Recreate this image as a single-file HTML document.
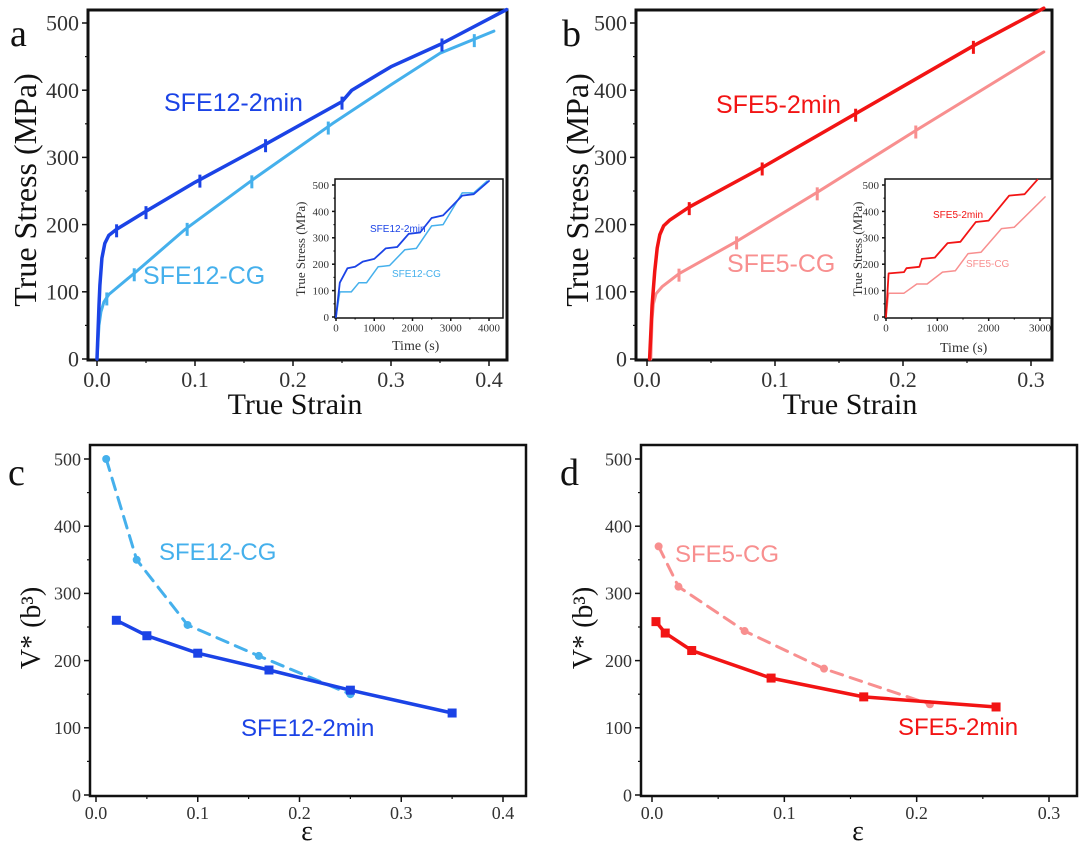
<!DOCTYPE html>
<html><head><meta charset="utf-8"><style>
html,body{margin:0;padding:0;background:#fff;}
svg{display:block;font-family:"Liberation Serif",serif;}
</style></head><body>
<svg id="fig" width="1080" height="853" viewBox="0 0 1080 853" xmlns="http://www.w3.org/2000/svg"></svg>
<script>
// ---- data ----
const aStrain2min=[0,0.002,0.003,0.005,0.008,0.012,0.02,0.05,0.1,0.17,0.25,0.26,0.3,0.35,0.418];
const aStress2min=[0,80,110,150,172,184,193,220,263,318,383,400,435,468,520];
const aStrainCG=[0,0.002,0.004,0.007,0.012,0.04,0.09,0.16,0.24,0.3,0.35,0.405];
const aStressCG=[0,50,70,85,96,130,193,268,350,408,455,488];
const aMarks2min=[0.02,0.05,0.105,0.172,0.25,0.352];
const aMarksCG=[0.01,0.038,0.092,0.158,0.236,0.385];
const bStrain2min=[0.002,0.004,0.006,0.008,0.01,0.013,0.018,0.033,0.09,0.163,0.255,0.31];
const bStress2min=[0,80,130,165,185,198,207,226,285,365,466,522];
const bStrainCG=[0.003,0.004,0.005,0.007,0.012,0.025,0.07,0.133,0.21,0.31];
const bStressCG=[0,60,82,97,108,127,175,248,340,457];
const bMarks2min=[0.033,0.09,0.163,0.255];
const bMarksCG=[0.025,0.07,0.133,0.21];
const aInTime2min=[0,100,300,500,700,1000,1300,1600,1900,2200,2500,2800,3300,3600,4000];
const aInStress2min=[0,130,185,190,210,220,260,265,315,320,375,385,460,465,515];
const aInTimeCG=[0,100,400,600,800,1100,1400,1800,2100,2500,2800,3300,3600,3950];
const aInStressCG=[0,95,95,130,130,190,195,255,260,345,350,470,470,515];
const bInTime2min=[0,50,350,400,650,700,950,1200,1450,1750,2000,2400,2700,2950];
const bInStress2min=[0,165,170,185,190,220,225,280,285,360,365,460,465,520];
const bInTimeCG=[0,50,350,600,800,1100,1350,1600,1850,2250,2500,3100];
const bInStressCG=[0,90,90,125,125,170,175,240,245,335,340,455];
const cStrainCG=[0.01,0.04,0.09,0.16,0.25];
const cVCG=[500,350,253,207,150];
const cStrain2min=[0.02,0.05,0.10,0.17,0.25,0.35];
const cV2min=[260,237,211,186,156,122];
const dStrainCG=[0.005,0.02,0.07,0.13,0.21];
const dVCG=[370,310,244,188,135];
const dStrain2min=[0.003,0.01,0.03,0.09,0.16,0.26];
const dV2min=[258,241,215,174,146,131];
const stressTicks=[0,100,200,300,400,500];
const aXTicks=[0,0.1,0.2,0.3,0.4];
const bXTicks=[0,0.1,0.2,0.3];
const aInXTicks=[0,1000,2000,3000,4000];
const bInXTicks=[0,1000,2000,3000];

const NS="http://www.w3.org/2000/svg";
const svg=document.getElementById('fig');
function el(tag,attrs,parent){const e=document.createElementNS(NS,tag);for(const k in attrs)e.setAttribute(k,attrs[k]);(parent||svg).appendChild(e);return e;}
function txt(s,attrs,parent){const t=el('text',attrs,parent);t.textContent=s;return t;}

function makeAxes(o){
  const g=el('g',{});
  
  
  const sx=v=>o.x0+(v-o.xmin)/(o.xmax-o.xmin)*(o.x1-o.x0);
  const sy=v=>o.y0-(v-o.ymin)/(o.ymax-o.ymin)*(o.y0-o.y1);
  const fr=el('rect',{x:o.L,y:o.T,width:o.R-o.L,height:o.B-o.T,fill:'#fff',stroke:'#111','stroke-width':o.bw||3},g);
  
  
  o.yt.forEach(v=>{
    el('line',{x1:o.L-o.tl,x2:o.L,y1:sy(v),y2:sy(v),stroke:'#111','stroke-width':1.5},g);
    const t=txt(String(v),{x:o.L-o.tl-3,y:sy(v)+o.fs*0.35,'font-size':o.fs,'text-anchor':'end',fill:'#333'},g);
    
    
  });
  for(let i=0;i<o.yt.length-1;i++){const m=(o.yt[i]+o.yt[i+1])/2;el('line',{x1:o.L-o.tl/2,x2:o.L,y1:sy(m),y2:sy(m),stroke:'#111','stroke-width':1.2},g);}
  o.xt.forEach(v=>{
    el('line',{x1:sx(v),x2:sx(v),y1:o.B,y2:o.B+o.tl,stroke:'#111','stroke-width':1.5},g);
    const t=txt(o.xfmt(v),{x:sx(v),y:o.B+o.tl+o.fs*0.95,'font-size':o.fs,'text-anchor':'middle',fill:'#333'},g);
    
    
  });
  for(let i=0;i<o.xt.length-1;i++){const m=(o.xt[i]+o.xt[i+1])/2;el('line',{x1:sx(m),x2:sx(m),y1:o.B,y2:o.B+o.tl/2,stroke:'#111','stroke-width':1.2},g);}
  return {g,sx,sy};
}
function line(ax,xs,ys,color,w,name,dash){
  const d=xs.map((x,i)=>(i?'L':'M')+ax.sx(x).toFixed(1)+','+ax.sy(ys[i]).toFixed(1)).join('');
  const p=el('path',{d,fill:'none',stroke:color,'stroke-width':w,'stroke-linejoin':'round','stroke-linecap':'round'},ax.g);
  if(dash)p.setAttribute('stroke-dasharray',dash);
  
  
  return p;
}
function interp(xs,ys,x){for(let i=1;i<xs.length;i++){if(x<=xs[i]){const t=(x-xs[i-1])/(xs[i]-xs[i-1]);return ys[i-1]+t*(ys[i]-ys[i-1]);}}return ys[ys.length-1];}
function marks(ax,ms,xs,ys,color,name){
  ms.forEach(m=>{const y=interp(xs,ys,m);
    const l=el('line',{x1:ax.sx(m),x2:ax.sx(m),y1:ax.sy(y)-5,y2:ax.sy(y)+8,stroke:color,'stroke-width':3},ax.g);
    
    
  });
}
function pts(ax,xs,ys,color,shape,name){
  xs.forEach((x,i)=>{let e;
    if(shape==='sq')e=el('rect',{x:ax.sx(x)-4.5,y:ax.sy(ys[i])-4.5,width:9,height:9,fill:color},ax.g);
    else e=el('circle',{cx:ax.sx(x),cy:ax.sy(ys[i]),r:4,fill:color},ax.g);
    
    
  });
}
function label(s,x,y,size,color,name,g,font){
  const t=txt(s,{x,y,'font-size':size,fill:color,'font-family':font||'"Liberation Sans",sans-serif'},g||svg);
  
  
  return t;
}
const f1=v=>v.toFixed(1);
const C_DB='#1b43e6',C_LB='#45b0ec',C_R='#f21414',C_P='#f88f8f';

// ---- panel a ----
const A=makeAxes({name:'panel-a',L:88,T:10,R:507,B:360,x0:97,x1:489,xmin:0,xmax:0.4,y0:359,y1:23,ymin:0,ymax:500,xt:aXTicks,yt:stressTicks,tl:6,fs:22,xfmt:f1});
line(A,aStrainCG,aStressCG,C_LB,3,'sfe12-cg-curve');
line(A,aStrain2min,aStress2min,C_DB,3.5,'sfe12-2min-curve');
marks(A,aMarksCG,aStrainCG,aStressCG,C_LB,'relaxation-mark');
marks(A,aMarks2min,aStrain2min,aStress2min,C_DB,'relaxation-mark');
label('SFE12-2min',164,111,25,C_DB,'sfe12-2min-label');
label('SFE12-CG',143,284,25,C_LB,'sfe12-cg-label');
const AI=makeAxes({name:'inset-a',L:335,T:179,R:503,B:318,x0:336,x1:489,xmin:0,xmax:4000,y0:317,y1:185,ymin:0,ymax:500,xt:aInXTicks,yt:stressTicks,tl:3,fs:11,xfmt:v=>String(v),bw:1.5});
line(AI,aInTimeCG,aInStressCG,C_LB,1.5,'inset-sfe12-cg');
line(AI,aInTime2min,aInStress2min,C_DB,1.8,'inset-sfe12-2min');
label('SFE12-2min',370,232,10,C_DB,'inset-sfe12-2min-label',AI.g);
label('SFE12-CG',392,277,10,C_LB,'inset-sfe12-cg-label',AI.g);
label('Time (s)',392,350,14,'#333','inset-a-x-title',AI.g,'"Liberation Serif",serif');
const tia=label('True Stress (MPa)',0,0,13,'#333','inset-a-y-title',AI.g,'"Liberation Serif",serif');
tia.setAttribute('transform','translate(305,249) rotate(-90)');tia.setAttribute('text-anchor','middle');
label('a',10,46,38,'#111','panel-a-letter',null,'"Liberation Serif",serif');
const ya=label('True Stress (MPa)',0,0,32,'#111','panel-a-y-title',null,'"Liberation Serif",serif');
ya.setAttribute('transform','translate(36,190) rotate(-90)');ya.setAttribute('text-anchor','middle');
const xa=label('True Strain',295,414,30,'#111','panel-a-x-title',null,'"Liberation Serif",serif');xa.setAttribute('text-anchor','middle');

// ---- panel b ----
const Bp=makeAxes({name:'panel-b',L:636,T:10,R:1052,B:360,x0:647,x1:1031,xmin:0,xmax:0.3,y0:359,y1:23,ymin:0,ymax:500,xt:bXTicks,yt:stressTicks,tl:6,fs:22,xfmt:f1});
line(Bp,bStrainCG,bStressCG,C_P,3,'sfe5-cg-curve');
line(Bp,bStrain2min,bStress2min,C_R,3.5,'sfe5-2min-curve');
marks(Bp,bMarksCG,bStrainCG,bStressCG,C_P,'relaxation-mark');
marks(Bp,bMarks2min,bStrain2min,bStress2min,C_R,'relaxation-mark');
label('SFE5-2min',716,113,25,C_R,'sfe5-2min-label');
label('SFE5-CG',727,272,25,C_P,'sfe5-cg-label');
const BI=makeAxes({name:'inset-b',L:885,T:179,R:1052,B:318,x0:886,x1:1040,xmin:0,xmax:3000,y0:317,y1:185,ymin:0,ymax:500,xt:bInXTicks,yt:stressTicks,tl:3,fs:11,xfmt:v=>String(v),bw:1.5});
line(BI,bInTimeCG,bInStressCG,C_P,1.5,'inset-sfe5-cg');
line(BI,bInTime2min,bInStress2min,C_R,1.8,'inset-sfe5-2min');
label('SFE5-2min',933,218,10,C_R,'inset-sfe5-2min-label',BI.g);
label('SFE5-CG',966,267,10,C_P,'inset-sfe5-cg-label',BI.g);
label('Time (s)',940,352,14,'#333','inset-b-x-title',BI.g,'"Liberation Serif",serif');
const tib=label('True Stress (MPa)',0,0,13,'#333','inset-b-y-title',BI.g,'"Liberation Serif",serif');
tib.setAttribute('transform','translate(862,249) rotate(-90)');tib.setAttribute('text-anchor','middle');
label('b',562,46,38,'#111','panel-b-letter',null,'"Liberation Serif",serif');
const yb=label('True Stress (MPa)',0,0,32,'#111','panel-b-y-title',null,'"Liberation Serif",serif');
yb.setAttribute('transform','translate(588,190) rotate(-90)');yb.setAttribute('text-anchor','middle');
const xb=label('True Strain',850,414,30,'#111','panel-b-x-title',null,'"Liberation Serif",serif');xb.setAttribute('text-anchor','middle');

// ---- panel c ----
const Cp=makeAxes({name:'panel-c',L:90,T:445,R:526,B:796,x0:96,x1:503,xmin:0,xmax:0.4,y0:795,y1:459,ymin:0,ymax:500,xt:aXTicks,yt:stressTicks,tl:6,fs:18,xfmt:f1,bw:2.5});
line(Cp,cStrainCG,cVCG,C_LB,3,'sfe12-cg-vstar-line','12,8');
pts(Cp,cStrainCG,cVCG,C_LB,'c','sfe12-cg-point');
line(Cp,cStrain2min,cV2min,C_DB,3.5,'sfe12-2min-vstar-line');
pts(Cp,cStrain2min,cV2min,C_DB,'sq','sfe12-2min-point');
label('SFE12-CG',159,560,24,C_LB,'sfe12-cg-label-c');
label('SFE12-2min',241,736,24,C_DB,'sfe12-2min-label-c');
label('c',8,485,38,'#111','panel-c-letter',null,'"Liberation Serif",serif');
const yc=label('V* (b³)',0,0,28,'#111','panel-c-y-title',null,'"Liberation Serif",serif');
yc.setAttribute('transform','translate(40,628) rotate(-90)');yc.setAttribute('text-anchor','middle');
const xc=label('ε',307,840,28,'#111','panel-c-x-title',null,'"Liberation Serif",serif');xc.setAttribute('text-anchor','middle');

// ---- panel d ----
const Dp=makeAxes({name:'panel-d',L:641,T:445,R:1077,B:796,x0:652,x1:1049,xmin:0,xmax:0.3,y0:795,y1:459,ymin:0,ymax:500,xt:bXTicks,yt:stressTicks,tl:6,fs:18,xfmt:f1,bw:2.5});
line(Dp,dStrainCG,dVCG,C_P,3,'sfe5-cg-vstar-line','12,8');
pts(Dp,dStrainCG,dVCG,C_P,'c','sfe5-cg-point');
line(Dp,dStrain2min,dV2min,C_R,3.5,'sfe5-2min-vstar-line');
pts(Dp,dStrain2min,dV2min,C_R,'sq','sfe5-2min-point');
label('SFE5-CG',675,562,24,C_P,'sfe5-cg-label-d');
label('SFE5-2min',898,735,24,C_R,'sfe5-2min-label-d');
label('d',560,485,38,'#111','panel-d-letter',null,'"Liberation Serif",serif');
const yd=label('V* (b³)',0,0,28,'#111','panel-d-y-title',null,'"Liberation Serif",serif');
yd.setAttribute('transform','translate(592,628) rotate(-90)');yd.setAttribute('text-anchor','middle');
const xd=label('ε',858,840,28,'#111','panel-d-x-title',null,'"Liberation Serif",serif');xd.setAttribute('text-anchor','middle');
</script>
</body></html>
